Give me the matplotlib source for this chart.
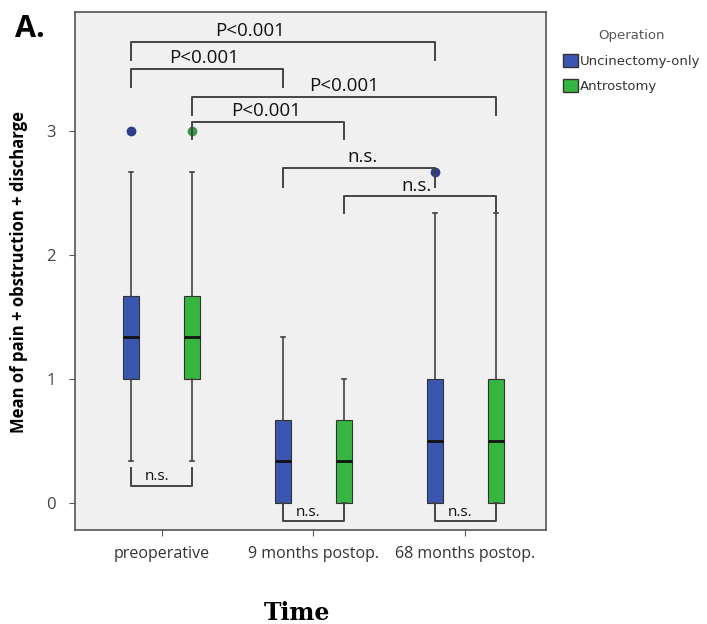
import matplotlib
matplotlib.use("Agg")
from matplotlib import pyplot as plt
from matplotlib.patches import Patch

# data
times = ["preoperative", "9 months postop.", "68 months postop."]
groups = ["Uncinectomy-only", "Antrostomy"]

# per group, per time point
q1 = [[1.0, 0.0, 0.0], [1.0, 0.0, 0.0]]
med = [[1.333, 0.333, 0.5], [1.333, 0.333, 0.5]]
q3 = [[1.667, 0.667, 1.0], [1.667, 0.667, 1.0]]
whislo = [[0.333, 0.0, 0.0], [0.333, 0.0, 0.0]]
whishi = [[2.667, 1.333, 2.333], [2.667, 1.0, 2.333]]
fliers = [[[3.0], [], [2.667]], [[3.0], [], []]]

# brackets: (time_a, group_a, time_b, group_b, level, leg_a, leg_b, text, text_frac)
brackets_top = [
    (0, 0, 2, 0, 3.72, 3.57, 3.57, "P<0.001", 0.39),
    (0, 0, 1, 0, 3.50, 3.35, 3.35, "P<0.001", 0.48),
    (0, 1, 2, 1, 3.27, 3.13, 3.13, "P<0.001", 0.50),
    (0, 1, 1, 1, 3.07, 2.93, 2.93, "P<0.001", 0.49),
    (1, 0, 2, 0, 2.70, 2.55, 2.55, "n.s.", 0.52),
    (1, 1, 2, 1, 2.47, 2.34, 2.34, "n.s.", 0.48),
]
brackets_bottom = [
    (0, 0.137, 0.282, "n.s."),
    (1, -0.153, -0.008, "n.s."),
    (2, -0.153, -0.008, "n.s."),
]

colors = ["#3B56B0", "#36B540"]
flier_colors = ["#2E3D8A", "#3A9A44"]
offset = 0.2
width = 0.105

fig = plt.figure(figsize=(7.07, 6.24), dpi=100)
ax = fig.add_axes([0.106, 0.151, 0.666, 0.830])
ax.set_facecolor("#F0F0F0")

def xpos(t, g):
    return t + (g - 0.5) * 2 * offset

for g in range(2):
    stats = []
    for t in range(3):
        stats.append(dict(med=med[g][t], q1=q1[g][t], q3=q3[g][t],
                          whislo=whislo[g][t], whishi=whishi[g][t],
                          fliers=fliers[g][t]))
    ax.bxp(stats, positions=[xpos(t, g) for t in range(3)], widths=width,
           patch_artist=True, capwidths=0.025,
           boxprops=dict(facecolor=colors[g], edgecolor="#333333", linewidth=0.8),
           medianprops=dict(color="#111111", linewidth=2),
           whiskerprops=dict(color="#444444", linewidth=1.2),
           capprops=dict(color="#444444", linewidth=1.2),
           flierprops=dict(marker="o", markersize=6, markerfacecolor=flier_colors[g],
                           markeredgecolor=flier_colors[g]))

lc = "#444444"
for ta, ga, tb, gb, lev, la, lb, txt, frac in brackets_top:
    xa, xb = xpos(ta, ga), xpos(tb, gb)
    ax.plot([xa, xa, xb, xb], [la, lev, lev, lb], color=lc, lw=1.4, clip_on=False)
    ax.text(xa + frac * (xb - xa), lev + 0.015, txt, ha="center", va="bottom",
            fontsize=13.5, family="Open Sans", color="#111111")

for t, lev, leg, txt in brackets_bottom:
    xa, xb = xpos(t, 0), xpos(t, 1)
    ax.plot([xa, xa, xb, xb], [leg, lev, lev, leg], color=lc, lw=1.4)
    ax.text(xa + 0.42 * (xb - xa), lev + 0.01, txt, ha="center", va="bottom",
            fontsize=11, family="Open Sans", color="#111111")

ax.set_xlim(-0.57, 2.53)
ax.set_ylim(-0.22, 3.96)
ax.set_xticks(range(3))
ax.set_xticklabels(times, fontsize=11.5, family="Open Sans", color="#333333")
ax.set_yticks([0, 1, 2, 3])
ax.set_yticklabels(["0", "1", "2", "3"], fontsize=12, family="Open Sans", color="#444444")
ax.tick_params(axis="both", length=4, color="#555555")
ax.tick_params(axis="x", pad=8)
ax.tick_params(axis="y", pad=10)
for s in ax.spines.values():
    s.set_color("#555555")
    s.set_linewidth(1.2)

fig.text(19 / 707, 1 - 272 / 624, "Mean of pain + obstruction + discharge",
         rotation=90, ha="center", va="center", fontsize=12,
         fontweight="bold", family="Open Sans")
fig.text(0.42, 0.006, "Time", ha="center", va="baseline", fontsize=17,
         fontweight="bold", family="DejaVu Serif")
fig.text(0.021, 0.977, "A.", ha="left", va="top", fontsize=22,
         fontweight="bold", family="Open Sans")

handles = [Patch(facecolor=colors[g], edgecolor="#333333", label=groups[g]) for g in range(2)]
leg = fig.legend(handles=handles, loc="upper left", bbox_to_anchor=(0.797, 0.953),
                 title="Operation", frameon=False, fontsize=9.5, title_fontsize=9.5,
                 handlelength=1.1, handleheight=1.15, handletextpad=0.15,
                 labelspacing=0.85, borderaxespad=0, borderpad=0)
leg.get_title().set_color("#555555")
for t in leg.get_texts():
    t.set_color("#333333")

fig.savefig("out.png", dpi=100)
